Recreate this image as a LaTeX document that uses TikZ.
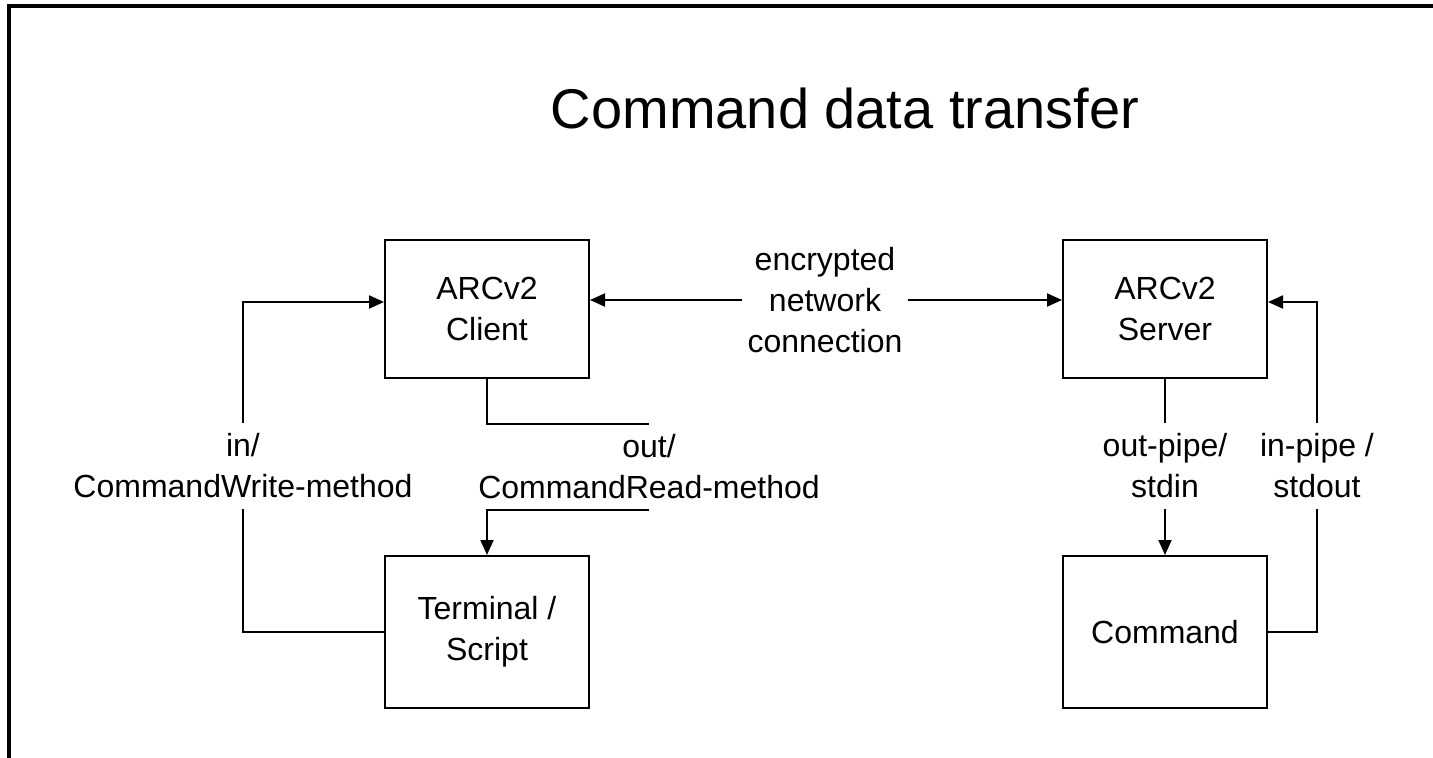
\documentclass[tikz,border=0pt]{standalone}
\usepackage{fontspec}
\setmainfont{Liberation Sans}
\usetikzlibrary{arrows.meta}

\begin{document}
\begin{tikzpicture}[
  x=1pt, y=-1pt,
  font=\fontsize{32}{41}\selectfont,
  box/.style={draw, line width=2pt, minimum width=204pt, inner sep=0pt, align=center},
  lbl/.style={align=center, inner xsep=0pt, inner ysep=11pt},
  line/.style={line width=2pt},
  arr/.style={line width=2pt, -{Triangle[length=15pt, width=13pt]}}]
\useasboundingbox (0,0) rectangle (1433,758);
\draw[line width=4pt] (9,758) -- (9,6) -- (1433,6);
\node (title) at (845,108) {\fontsize{56}{60}\selectfont Command data transfer};
% boxes
\node[box, minimum height=138pt] (client) at (487,309) {ARCv2\\Client};
\node[box, minimum height=138pt] (server) at (1165,309) {ARCv2\\Server};
\node[box, minimum height=152pt] (term) at (487,632) {Terminal /\\Script};
\node[box, minimum height=152pt] (cmd) at (1165,632) {Command};
% labels
\node[align=center, inner xsep=5pt, inner ysep=0pt] (net) at (825,300) {encrypted\\network\\connection};
\node[lbl] (inlbl) at (243,466) {in/\\CommandWrite-method};
\node[lbl] (outlbl) at (649,467) {out/\\CommandRead-method};
\node[lbl] (oplbl) at (1165,466) {out-pipe/\\stdin};
\node[lbl] (iplbl) at (1317,466) {in-pipe /\\stdout};
% connections
\draw[arr] (net.west) -- (net.west -| client.east);
\draw[arr] (net.east) -- (net.east -| server.west);
\draw[line] (term.west) -| (inlbl.south);
\draw[arr] (inlbl.north) |- ([yshift=7pt]client.west);
\draw[line] (client.south) |- (outlbl.north);
\draw[arr] (outlbl.south) -| (term.north);
\draw[line] (server.south) -- (oplbl.north);
\draw[arr] (oplbl.south) -- (cmd.north);
\draw[line] (cmd.east) -| (iplbl.south);
\draw[arr] (iplbl.north) |- ([yshift=7pt]server.east);
\end{tikzpicture}
\end{document}
